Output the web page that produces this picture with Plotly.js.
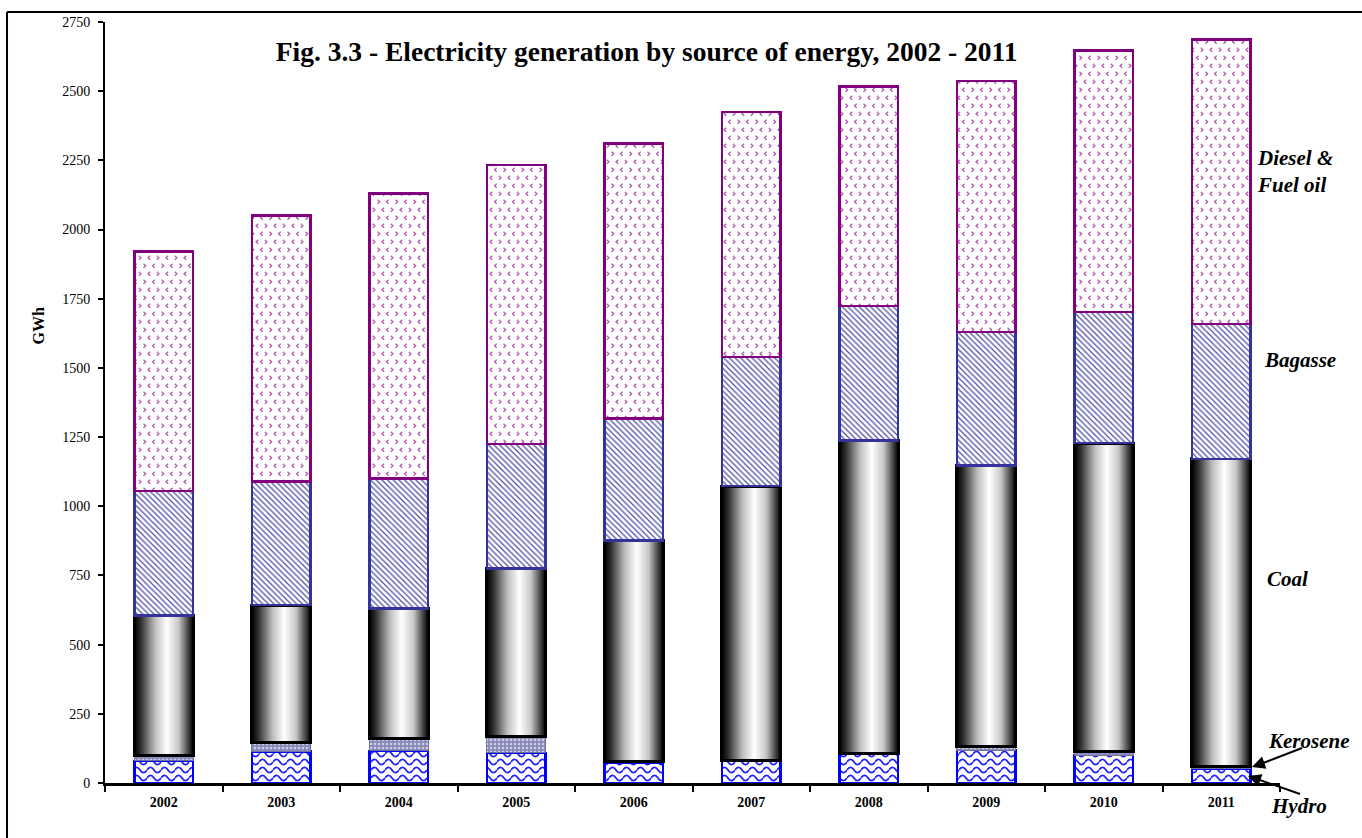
<!DOCTYPE html>
<html>
<head>
<meta charset="utf-8">
<script src="https://cdn.plot.ly/plotly-3.0.1.min.js"></script>
<style>
html,body{margin:0;padding:0;background:#fff;}
#chart{width:1362px;height:838px;}
</style>
</head>
<body>
<svg width="0" height="0" style="position:absolute;left:0;top:0">
  <defs>
    <linearGradient id="coalGrad" x1="0" y1="0" x2="1" y2="0">
      <stop offset="0" stop-color="#000"/>
      <stop offset="0.1" stop-color="#2a2a2a"/>
      <stop offset="0.35" stop-color="#bdbdbd"/>
      <stop offset="0.55" stop-color="#ffffff"/>
      <stop offset="0.75" stop-color="#c8c8c8"/>
      <stop offset="0.92" stop-color="#404040"/>
      <stop offset="1" stop-color="#000"/>
    </linearGradient>
    <pattern id="hydroWave" patternUnits="userSpaceOnUse" width="14" height="8">
      <rect width="14" height="8" fill="#fff"/>
      <path d="M0,4 C2.3,0.5 4.7,0.5 7,4 S11.7,7.5 14,4" stroke="#2020ff" stroke-width="1.8" fill="none"/>
    </pattern>
    <pattern id="dieselChev" patternUnits="userSpaceOnUse" width="18" height="16">
      <rect width="18" height="16" fill="#fff"/>
      <g stroke="#b050b0" stroke-width="1.2" fill="none">
        <path d="M2.5,1.8 L4.7,3.8 L2.5,5.8"/>
        <path d="M13.7,1.8 L11.5,3.8 L13.7,5.8"/>
        <path d="M9.2,9.8 L7,11.8 L9.2,13.8"/>
        <path d="M15.8,9.8 L18,11.8 L15.8,13.8"/>
        <path d="M-2.2,9.8 L0,11.8 L-2.2,13.8"/>
      </g>
    </pattern>
  </defs>
</svg>
<div id="chart"></div>
<script>
var years = ["2002","2003","2004","2005","2006","2007","2008","2009","2010","2011"];
var hydro    = [80, 113, 116, 109, 75, 79, 104, 119, 101, 53];
var kerosene = [21, 32, 45, 58, 4, 3, 3, 12, 14, 8];
var coal     = [504, 498, 470, 609, 798, 991, 1130, 1017, 1113, 1110];
var bagasse  = [450, 447, 469, 449, 441, 467, 486, 482, 474, 487];
var diesel   = [866, 960, 1030, 1008, 993, 885, 794, 907, 945, 1029];
var yTicks = [0, 250, 500, 750, 1000, 1250, 1500, 1750, 2000, 2250, 2500, 2750];

var serif = "Liberation Serif, Times New Roman, serif";

var traces = [
  {type:"bar", name:"Hydro", x:years, y:hydro,
   marker:{color:"#ffffff", line:{color:"#0000ff", width:2.5}}},
  {type:"bar", name:"Kerosene", x:years, y:kerosene,
   marker:{color:"#8a8ab8", line:{color:"#7070a0", width:1},
           pattern:{shape:".", fgcolor:"#d0d0e8", bgcolor:"#8a8ab8", size:4, solidity:0.3}}},
  {type:"bar", name:"Coal", x:years, y:coal,
   marker:{color:"#888888", line:{color:"#000000", width:3}}},
  {type:"bar", name:"Bagasse", x:years, y:bagasse,
   marker:{color:"#ffffff", line:{color:"#333399", width:2.5},
           pattern:{shape:"\\", fgcolor:"#4b4ba8", bgcolor:"#ffffff", size:4, solidity:0.3}}},
  {type:"bar", name:"Diesel & Fuel oil", x:years, y:diesel,
   marker:{color:"#ffffff", line:{color:"#800080", width:2.5}}}
];

var lab = {family:serif, size:21, color:"#000", weight:700, style:"italic"};
function px(x){ return (x-105)/1175; }
function py(y){ return (783-y)/761; }

var layout = {
  width:1362, height:838,
  margin:{l:105, r:82, t:22, b:55},
  paper_bgcolor:"#ffffff", plot_bgcolor:"#ffffff",
  barmode:"stack", bargap:0.5, showlegend:false,
  title:{text:"Fig. 3.3 - Electricity generation by source of energy, 2002 - 2011",
         font:{family:serif, size:27.5, color:"#000", weight:700},
         xref:"paper", yref:"paper", x:0.461, xanchor:"center", y:0.962, yanchor:"middle"},
  xaxis:{type:"category", showline:true, linecolor:"#000", linewidth:3,
         ticks:"outside", tickson:"boundaries", ticklen:6, tickwidth:2, tickcolor:"#000",
         ticklabelstandoff:4,
         tickfont:{family:serif, size:14, color:"#000", weight:700},
         showgrid:false, zeroline:false, fixedrange:true},
  yaxis:{range:[0,2750], tickvals:yTicks, ticktext:yTicks.map(String),
         showline:true, linecolor:"#000", linewidth:2,
         ticks:"outside", ticklen:5, tickwidth:2, tickcolor:"#000",
         ticklabelstandoff:5,
         tickfont:{family:serif, size:14, color:"#000"},
         showgrid:false, zeroline:false, fixedrange:true},
  annotations:[
    {text:"GWh", textangle:-90, xref:"paper", yref:"paper", x:-0.057, y:0.600,
     xanchor:"center", yanchor:"middle",
     showarrow:false, font:{family:serif, size:16, color:"#000", weight:700}},
    {text:"Diesel &amp;<br>Fuel oil", xref:"paper", yref:"paper", x:px(1255), y:py(171),
     xanchor:"left", yanchor:"middle", showarrow:false, align:"left", font:lab},
    {text:"Bagasse", xref:"paper", yref:"paper", x:px(1262), y:py(360),
     xanchor:"left", yanchor:"middle", showarrow:false, font:lab},
    {text:"Coal", xref:"paper", yref:"paper", x:px(1265), y:py(579),
     xanchor:"left", yanchor:"middle", showarrow:false, font:lab},
    {text:"Kerosene", xref:"paper", yref:"paper", x:px(1309), y:py(741),
     xanchor:"center", yanchor:"middle", showarrow:false, font:lab},
    {text:"Hydro", xref:"paper", yref:"paper", x:px(1299), y:py(806),
     xanchor:"center", yanchor:"middle", showarrow:false, font:lab},
    {text:"", xref:"paper", yref:"paper", x:px(1252), y:py(767),
     ax:14, ay:-5, showarrow:true, arrowhead:2, arrowsize:1.3, arrowwidth:2, arrowcolor:"#000"},
    {text:"", xref:"paper", yref:"paper", x:px(1248), y:py(776),
     ax:14, ay:5, showarrow:true, arrowhead:2, arrowsize:1.3, arrowwidth:2, arrowcolor:"#000"}
  ],
  shapes:[
    {type:"line", xref:"paper", yref:"paper", x0:-0.0834, x1:1.08, y0:py(12), y1:py(12),
     line:{color:"#000", width:2}},
    {type:"line", xref:"paper", yref:"paper", x0:-0.0834, x1:-0.0834, y0:py(12), y1:-0.08,
     line:{color:"#000", width:2}},
    {type:"line", xref:"paper", yref:"paper", x0:px(1302), y0:py(748), x1:px(1258), y1:py(765),
     line:{color:"#000", width:2}},
    {type:"line", xref:"paper", yref:"paper", x0:px(1300), y0:py(794), x1:px(1254), y1:py(778),
     line:{color:"#000", width:2}}
  ]
};

function applyFills(gd){
  var groups = gd.querySelectorAll(".barlayer .trace");
  var fills = {0:"url(#hydroWave)", 2:"url(#coalGrad)", 4:"url(#dieselChev)"};
  groups.forEach(function(g, i){
    if (fills[i]) {
      g.querySelectorAll(".point path").forEach(function(p){
        p.style.fill = fills[i];
        p.style.fillOpacity = 1;
      });
    }
  });
}

Plotly.newPlot("chart", traces, layout, {displayModeBar:false, staticPlot:true}).then(applyFills);
</script>
</body>
</html>
